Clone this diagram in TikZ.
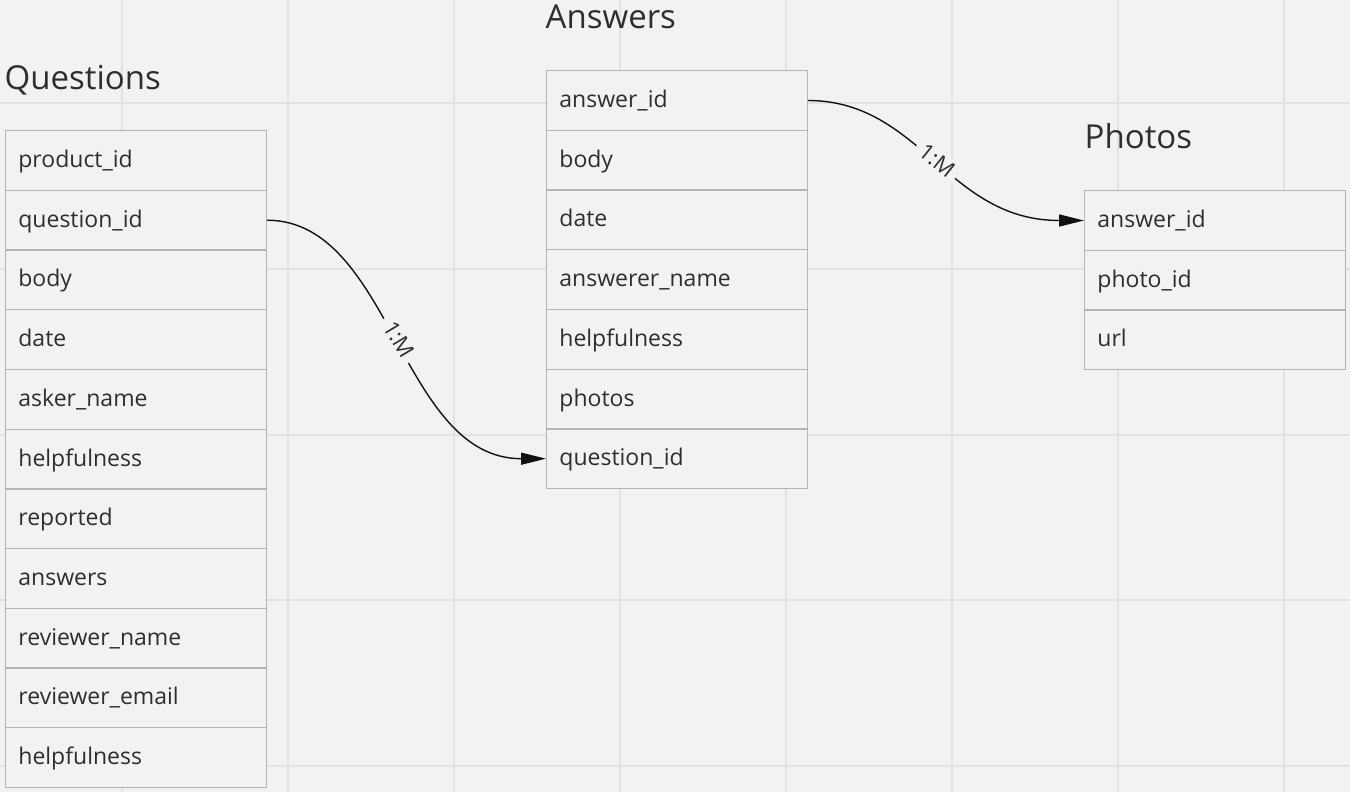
\documentclass[tikz,border=0pt]{standalone}
\usepackage{fontspec}
\setmainfont{Open Sans}
\usetikzlibrary{arrows.meta}
\definecolor{bgc}{HTML}{F2F2F2}
\definecolor{gridc}{HTML}{E2E2E2}
\definecolor{boxc}{HTML}{B4B4B4}
\definecolor{txtc}{HTML}{2E2E2E}
\definecolor{linec}{HTML}{111111}
\tikzset{
  rowbox/.style={draw=boxc, fill=bgc, line width=1.3pt, anchor=north west,
    minimum width=260.5pt, minimum height=59.7pt, inner xsep=12.5pt, inner ysep=0pt,
    text width=235pt, align=left, text height=17pt, text depth=3pt,
    text=txtc, font=\fontsize{23}{27}\selectfont},
  tabtitle/.style={anchor=base west, inner sep=0pt, text=txtc, font=\fontsize{33}{39}\selectfont},
  conn/.style={draw=linec, line width=1.4pt, -{Triangle[length=25pt,width=12pt]}},
  lbl/.style={sloped, fill=bgc, inner xsep=6pt, inner ysep=2pt, text=txtc, font=\fontsize{22}{26}\selectfont}
}
\begin{document}
\begin{tikzpicture}[x=1pt,y=-1pt]
\fill[bgc] (0,0) rectangle (1350,792);
\useasboundingbox (0,0) rectangle (1350,792);
\foreach \gx in {122,288,454,620,786,952,1118,1284}
  \draw[gridc, line width=1.2pt] (\gx,0) -- (\gx,792);
\foreach \gy in {103,269,435,600,766}
  \draw[gridc, line width=1.2pt] (0,\gy) -- (1350,\gy);

% Questions
\node[tabtitle] (qt) at (4.5,89) {Questions};
\foreach [count=\i] \t in {product\_id,question\_id,body,date,asker\_name,helpfulness,reported,answers,reviewer\_name,reviewer\_email,helpfulness}
  \node[rowbox] (q\i) at (5,{130+(\i-1)*59.7}) {\t};

% Answers
\node[tabtitle] (at) at (545.5,29) {Answers};
\foreach [count=\i] \t in {answer\_id,body,date,answerer\_name,helpfulness,photos,question\_id}
  \node[rowbox] (a\i) at (546,{70+(\i-1)*59.7}) {\t};

% Photos
\node[tabtitle] (pt) at (1084.5,148) {Photos};
\foreach [count=\i] \t in {answer\_id,photo\_id,url}
  \node[rowbox] (p\i) at (1084,{190+(\i-1)*59.7}) {\t};

\draw[conn] (q2.east) .. controls +(125,0) and +(-146,0) .. node[lbl] {1:M} (a7.west);
\draw[conn] (a1.east) .. controls +(113,0) and +(-137,0) .. node[lbl] {1:M} (p1.west);
\end{tikzpicture}
\end{document}
